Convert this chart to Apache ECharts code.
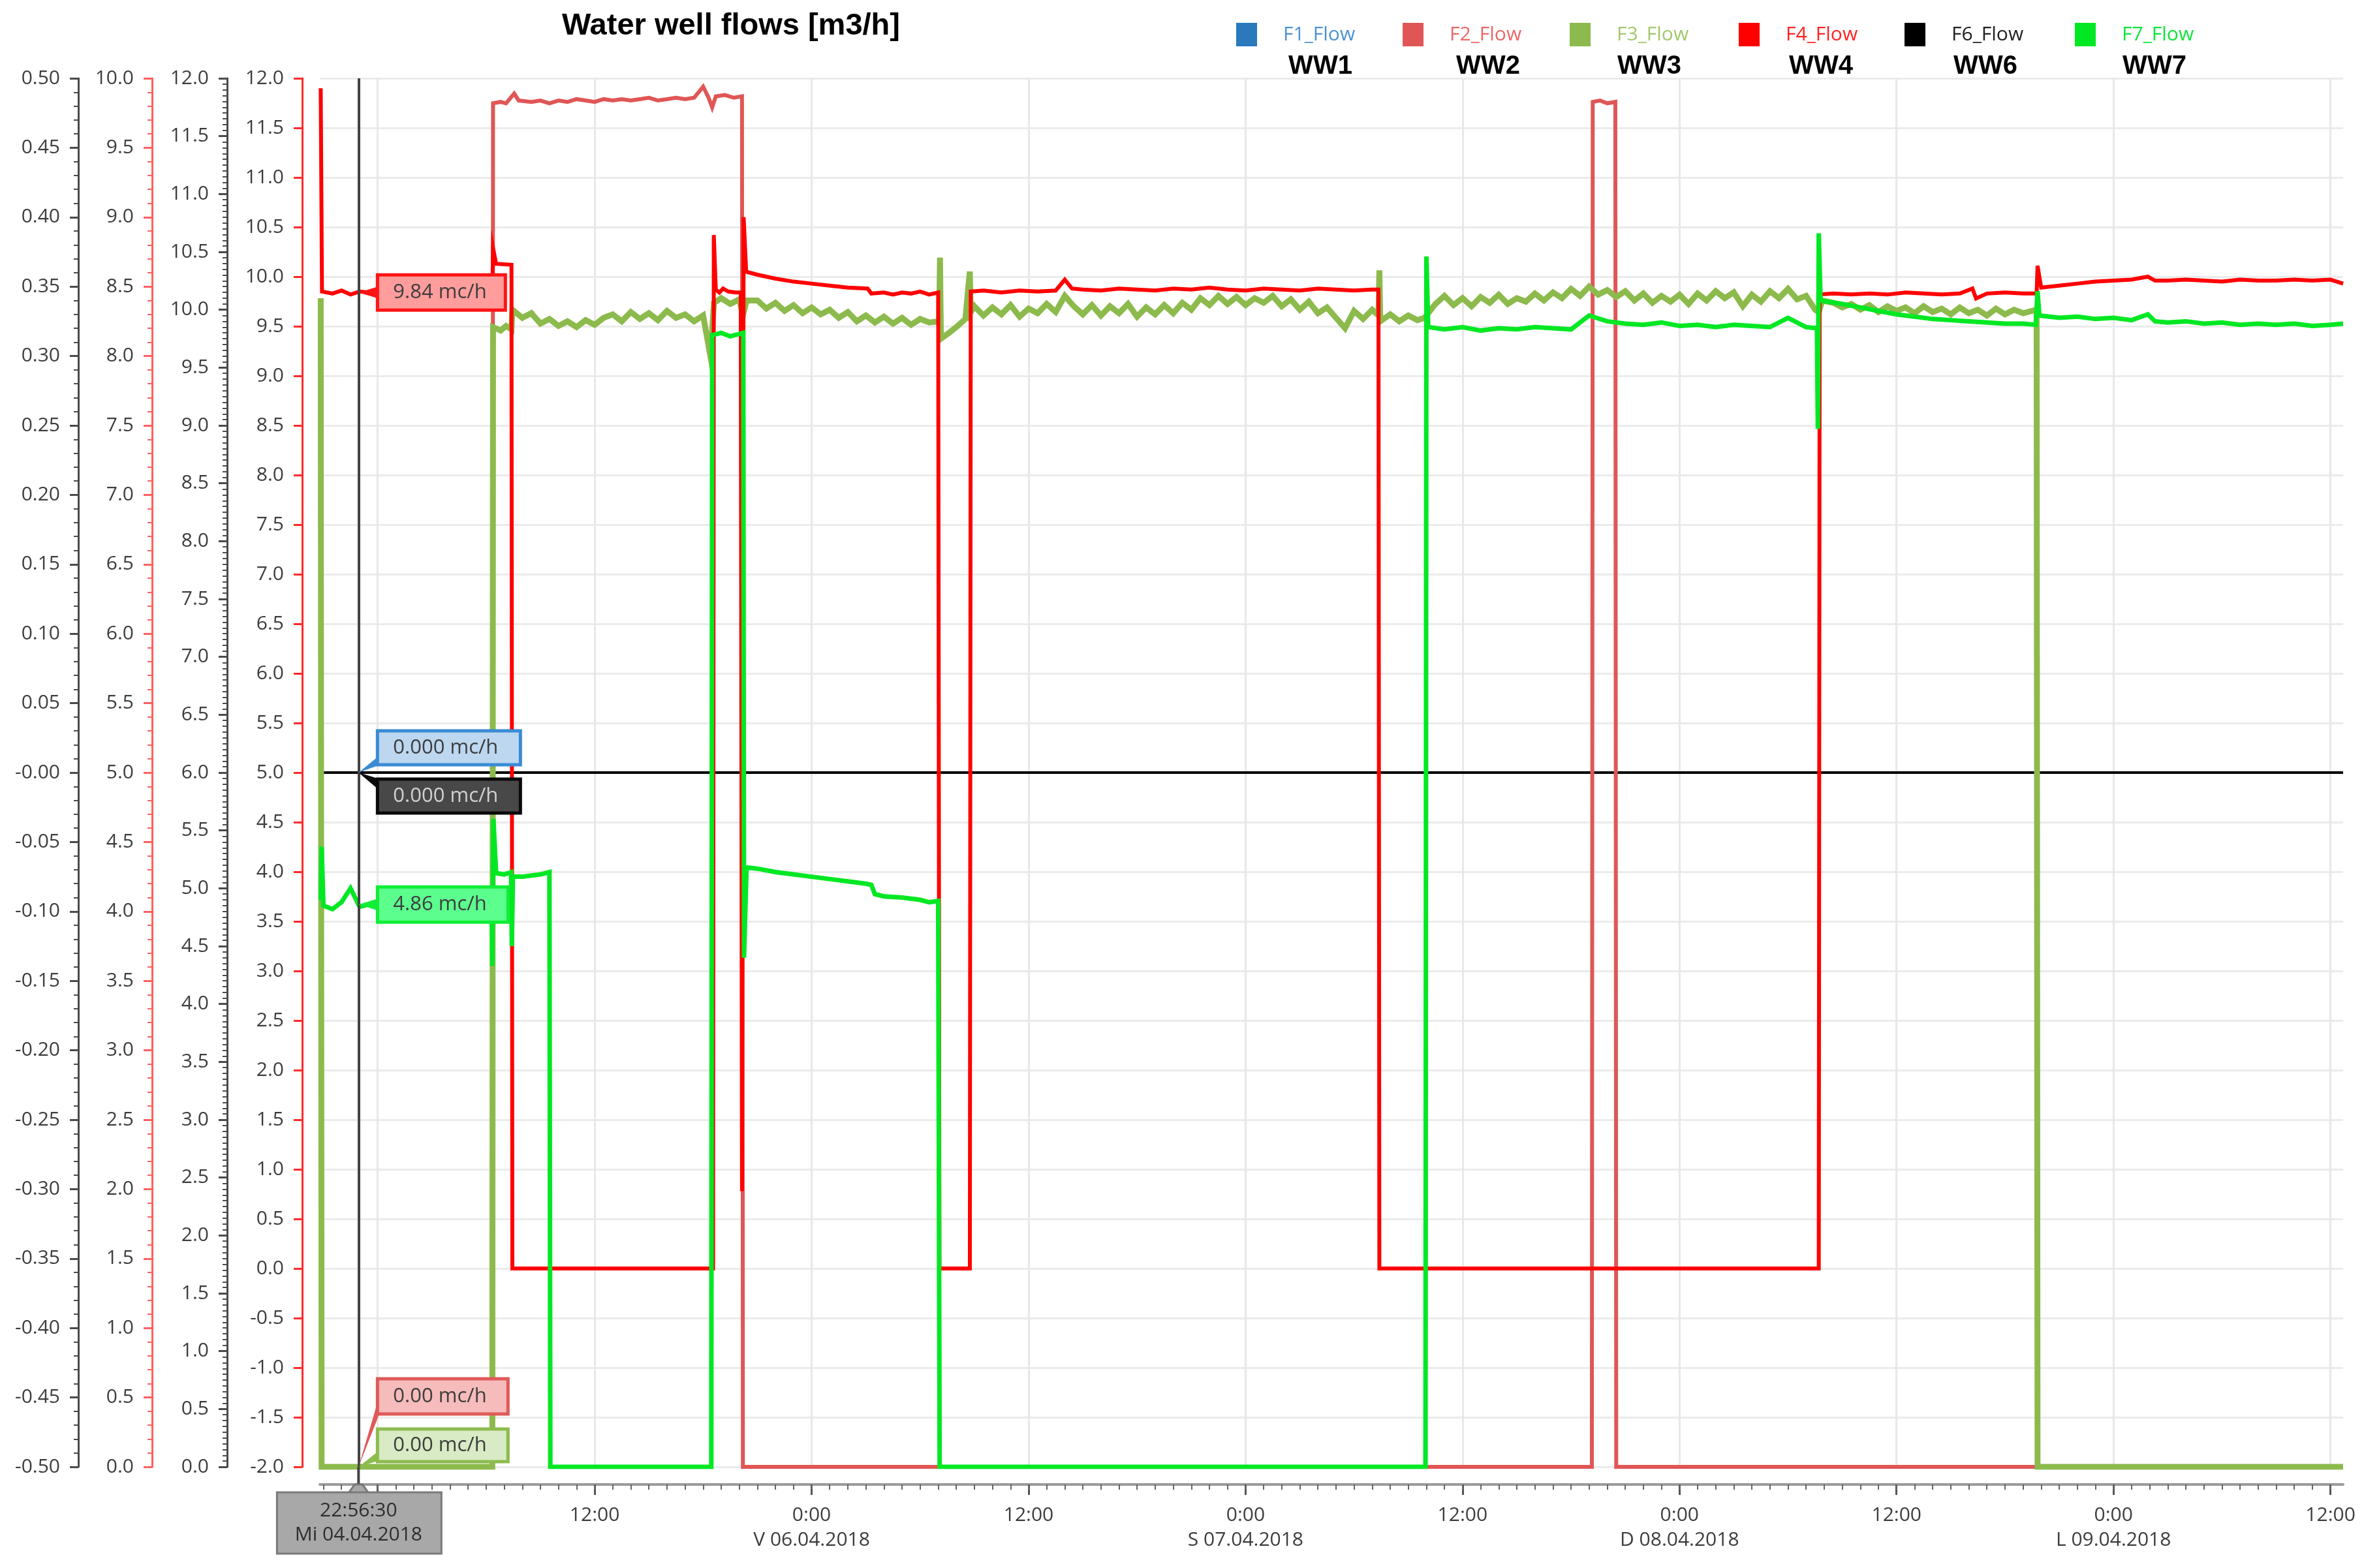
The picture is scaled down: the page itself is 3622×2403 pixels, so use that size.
<!DOCTYPE html>
<html><head><meta charset="utf-8">
<script src="https://cdn.jsdelivr.net/npm/echarts@6/dist/echarts.min.js"></script>
<style>html,body{margin:0;padding:0;background:#fff}#c{width:3622px;height:2403px}</style>
</head><body><div id="c"></div>
<script>
// ---------------- DATA (x = hours relative to 06.04.2018 0:00) ----------------
const xRange = [-27.2, 84.7];
const majorTickHours = [-24, -12, 0, 12, 24, 36, 48, 60, 72, 84];
const labelHours = [-12, 0, 12, 24, 36, 48, 60, 72, 84];
const dayLabels = {0: 'V 06.04.2018', 24: 'S 07.04.2018', 48: 'D 08.04.2018', 72: 'L 09.04.2018'};

const seriesNames = ['F1_Flow', 'F2_Flow', 'F3_Flow', 'F4_Flow', 'F6_Flow', 'F7_Flow'];
const wellNames = ['WW1', 'WW2', 'WW3', 'WW4', 'WW6', 'WW7'];

// F4 (axis -2..12)
const f4Flow = [
  [[-27.15, 11.9], [-27.08, 9.85]],
  {from: -26.5, step: 0.5, values: [9.83, 9.86, 9.82, 9.85, 9.84, 9.87, 9.83, 9.85, 9.84, 9.86, 9.83, 9.85, 9.84, 9.83, 9.86, 9.84, 9.85, 9.84]},
  [[-17.66, 9.84], [-17.62, 10.29], [-17.45, 10.13], [-16.6, 10.12], [-16.55, 0], [-5.45, 0], [-5.41, 10.42], [-5.3, 9.87], [-5.1, 9.84], [-4.9, 9.88], [-4.6, 9.85], [-4.2, 9.84], [-3.92, 9.84], [-3.85, 0.78], [-3.76, 10.6], [-3.62, 10.05], [-3, 10.02], [-2, 9.98], [-1, 9.95], [0, 9.93], [1, 9.91], [2, 9.89], [3.1, 9.88], [3.3, 9.83], [4, 9.84], [4.5, 9.82], [5, 9.84], [5.5, 9.83], [6, 9.85], [6.5, 9.82], [7.0, 9.84], [7.07, 0], [8.75, 0], [8.8, 9.85], [9.5, 9.86], [10.5, 9.84], [11.5, 9.86], [12.5, 9.85], [13.5, 9.86], [14.0, 9.97], [14.4, 9.88]],
  {from: 15, step: 1, values: [9.87, 9.86, 9.88, 9.87, 9.86, 9.88, 9.87, 9.89, 9.87, 9.86, 9.88, 9.87, 9.86, 9.88, 9.87, 9.86, 9.87]},
  [[31.35, 9.87], [31.4, 0], [55.7, 0], [55.75, 9.82]],
  {from: 56.5, step: 1, values: [9.83, 9.82, 9.83, 9.82, 9.84, 9.83, 9.82, 9.83]},
  [[64.2, 9.88], [64.4, 9.78], [65, 9.83], [66, 9.84], [67, 9.83], [67.75, 9.83], [67.8, 10.11], [68, 9.89], [69, 9.91], [70, 9.93], [71, 9.95], [72, 9.96], [73, 9.97], [73.9, 10.0], [74.3, 9.96], [75, 9.96], [76, 9.97], [77, 9.96], [78, 9.95], [79, 9.97], [80, 9.96], [81, 9.96], [82, 9.97], [83, 9.96], [84, 9.97], [84.7, 9.93]]
];

// F2 (axis 0..10)
const f2Flow = [
  [[-27.15, 0], [-17.66, 0], [-17.62, 9.82], [-17.2, 9.83], [-16.9, 9.82], [-16.45, 9.89], [-16.2, 9.84]],
  {from: -15.5, step: 0.5, values: [9.83, 9.84, 9.82, 9.84, 9.83, 9.85, 9.84, 9.83, 9.85, 9.84, 9.85, 9.84, 9.85, 9.86, 9.84, 9.85, 9.86, 9.85, 9.86]},
  [[-6.0, 9.94], [-5.7, 9.86], [-5.5, 9.79], [-5.3, 9.87], [-4.8, 9.88], [-4.3, 9.86], [-3.85, 9.87], [-3.8, 0], [43.15, 0], [43.2, 9.83], [43.6, 9.84], [44.0, 9.82], [44.45, 9.83], [44.5, 0], [84.7, 0]]
];

// F3 (axis 0..12)
const f3Flow = [
  [[-27.15, 10.1], [-27.1, 0], [-17.66, 0], [-17.62, 9.85], [-17.2, 9.82], [-16.9, 9.86], [-16.6, 9.83], [-16.55, 10.0]],
  {from: -16.0, step: 0.5, values: [9.93, 9.97, 9.88, 9.92, 9.86, 9.9, 9.85, 9.91, 9.87, 9.93, 9.96, 9.9, 9.98, 9.92, 9.97, 9.91, 9.99, 9.93, 9.96, 9.9, 9.95]},
  [[-5.6, 9.6], [-5.4, 10.06], [-5.0, 10.1], [-4.5, 10.05], [-4.0, 10.09], [-3.8, 9.95], [-3.6, 10.08]],
  {from: -3.0, step: 0.5, values: [10.08, 10.01, 10.06, 9.99, 10.04, 9.97, 10.02, 9.96, 10.0, 9.93, 9.98, 9.9, 9.95, 9.89, 9.94, 9.88, 9.93, 9.87, 9.92, 9.89]},
  [[7.05, 9.9], [7.1, 10.45], [7.15, 9.75], [7.6, 9.8], [8.0, 9.85], [8.5, 9.92], [8.75, 10.33], [8.8, 9.98]],
  {from: 9.0, step: 0.5, values: [10.03, 9.95, 10.02, 9.96, 10.04, 9.94, 10.01, 9.97, 10.05, 9.98, 10.12, 10.03, 9.96, 10.04, 9.95, 10.03, 9.97, 10.05, 9.94, 10.02, 9.96, 10.04, 9.97, 10.06, 10.0, 10.1, 10.04, 10.12, 10.05, 10.11, 10.04, 10.1, 10.06, 10.12, 10.03, 10.09, 10.0, 10.07, 9.97, 10.02, 9.93, 9.84, 9.99, 9.92, 10.0]},
  [[31.35, 9.95], [31.4, 10.34], [31.45, 9.9]],
  {from: 32.0, step: 0.5, values: [9.96, 9.9, 9.95, 9.91]},
  [[33.9, 9.93]],
  {from: 34.5, step: 0.5, values: [10.05, 10.12, 10.04, 10.1, 10.03, 10.11, 10.06, 10.13, 10.05, 10.1, 10.07, 10.14, 10.08, 10.15, 10.1, 10.18, 10.12, 10.2, 10.13, 10.17, 10.11, 10.16, 10.08, 10.14, 10.06, 10.12, 10.07, 10.13, 10.05, 10.14, 10.08, 10.16, 10.1, 10.15, 10.03, 10.13, 10.07, 10.16, 10.1, 10.18, 10.09, 10.12]},
  [[55.5, 10.0], [55.7, 9.98], [55.9, 10.08]],
  {from: 56.5, step: 0.5, values: [10.06, 10.02, 10.05, 10.0, 10.04, 9.98, 10.03, 9.99, 10.02, 9.97, 10.03, 9.98, 10.01, 9.96, 10.02, 9.97, 10.0, 9.95, 10.01, 9.96, 10.0, 9.97, 9.99]},
  [[67.75, 10.0], [67.8, 0], [84.7, 0]]
];

// F7 (axis 0..12)
const f7Flow = [
  [[-27.15, 4.9], [-27.1, 5.36], [-27.0, 4.85]],
  {from: -26.5, step: 0.5, values: [4.82, 4.88, 5.0, 4.84, 4.86, 4.83, 4.9, 4.85, 4.87, 4.85, 4.88, 4.86, 4.84, 4.87, 4.85, 4.86, 4.88, 4.86]},
  [[-17.7, 4.86], [-17.66, 4.33], [-17.6, 5.6], [-17.45, 5.13], [-17.0, 5.12], [-16.62, 5.14], [-16.58, 4.5], [-16.52, 5.1], [-16.0, 5.1], [-15.5, 5.11], [-15.0, 5.12], [-14.5, 5.14], [-14.45, 0], [-5.55, 0], [-5.5, 9.78], [-5.0, 9.8], [-4.5, 9.77], [-4.0, 9.79], [-3.78, 9.8], [-3.74, 4.4], [-3.6, 5.18], [-3, 5.17], [-2, 5.14], [-1, 5.12], [0, 5.1], [1, 5.08], [2, 5.06], [3, 5.04], [3.3, 5.03], [3.5, 4.95], [4, 4.93], [5, 4.92], [6, 4.9], [6.5, 4.88], [7.0, 4.89], [7.08, 0], [33.95, 0], [34.0, 10.46], [34.1, 9.85]],
  {from: 35, step: 1, values: [9.83, 9.85, 9.82, 9.84, 9.83, 9.85, 9.84, 9.83, 9.95, 9.9, 9.88, 9.87, 9.89, 9.86, 9.87, 9.85, 9.87, 9.86, 9.85, 9.93, 9.85]},
  [[55.6, 9.84], [55.65, 8.97], [55.7, 10.66], [55.8, 10.08], [57, 10.05], [58, 10.02], [59, 9.99], [60, 9.96], [61, 9.94], [62, 9.92], [63, 9.91], [64, 9.9], [65, 9.89], [66, 9.88], [67, 9.88], [67.7, 9.87], [67.8, 10.16], [67.9, 9.95], [69, 9.93], [70, 9.94], [71, 9.92], [72, 9.93], [73, 9.91], [73.9, 9.96], [74.3, 9.9], [75, 9.89], [76, 9.9], [77, 9.88], [78, 9.89], [79, 9.87], [80, 9.88], [81, 9.87], [82, 9.88], [83, 9.86], [84, 9.87], [84.7, 9.88]]
];

// F1, F6 (axis -0.5..0.5)
const f1Flow = [[[-27.15, 0], [84.7, 0]]];
const f6Flow = [[[-27.15, 0], [84.7, 0]]];

// cursor
const cursorHour = -25.058;
const cursorTimeLabel = ['22:56:30', 'Mi 04.04.2018'];
const cursorValues = {F1_Flow: 0, F2_Flow: 0, F3_Flow: 0, F4_Flow: 9.84, F6_Flow: 0, F7_Flow: 4.86};
const cursorDecimals = {F1_Flow: 3, F2_Flow: 2, F3_Flow: 2, F4_Flow: 2, F6_Flow: 3, F7_Flow: 2};

// ---------------- helpers ----------------
function build(pieces) {
  const out = [];
  pieces.forEach(p => {
    if (Array.isArray(p)) p.forEach(q => out.push(q));
    else p.values.forEach((v, i) => out.push([+(p.from + i * p.step).toFixed(3), v]));
  });
  return out;
}

// ---------------- styles / layout ----------------
const FONT = 'Open Sans';
const LABEL_COLOR = '#3d3d3d';
const seriesColors = {F1_Flow: '#2a79bd', F2_Flow: '#e05656', F3_Flow: '#8cba4c', F4_Flow: '#ff0000', F6_Flow: '#000000', F7_Flow: '#00e823'};
const legendTextColors = ['#4d92d3', '#ea6868', '#a3c86c', '#ff2424', '#222222', '#10e53a'];
const legendLeft = [1894, 2149, 2405, 2664, 2918, 3179];
const wellLabelX = [2023, 2280, 2527, 2790, 3042, 3301];
// y axis index per series: 0 = D(-2..12), 1 = C(0..12), 2 = B(0..10), 3 = A(-0.5..0.5)
const seriesAxis = {F1_Flow: 3, F2_Flow: 2, F3_Flow: 1, F4_Flow: 0, F6_Flow: 3, F7_Flow: 1};
const seriesData = {F1_Flow: f1Flow, F2_Flow: f2Flow, F3_Flow: f3Flow, F4_Flow: f4Flow, F6_Flow: f6Flow, F7_Flow: f7Flow};
const seriesWidth = {F1_Flow: 4, F2_Flow: 6, F3_Flow: 9, F4_Flow: 6, F6_Flow: 4, F7_Flow: 7};
const drawOrder = ['F1_Flow', 'F6_Flow', 'F2_Flow', 'F3_Flow', 'F4_Flow', 'F7_Flow'];

function yAx(min, max, offset, color, minorSplit, dec, split) {
  return {
    type: 'value', position: 'left', min: min, max: max, interval: dec === 2 ? 0.05 : 0.5, offset: offset,
    axisLine: {show: true, onZero: false, lineStyle: {color: color, width: 3}},
    axisTick: {show: true, length: 13, lineStyle: {color: color, width: 3}},
    minorTick: {show: minorSplit > 0, splitNumber: minorSplit || 5, length: 7, lineStyle: {color: color, width: 2}},
    axisLabel: {margin: 28, color: LABEL_COLOR, fontSize: 30, fontFamily: FONT,
      formatter: v => (dec === 2 && Math.abs(v) < 1e-9) ? '-0.00' : v.toFixed(dec)},
    splitLine: {show: split, lineStyle: {color: '#ebebeb', width: 3}},
    minorSplitLine: {show: false}
  };
}

const hourTicks = [];
for (let h = Math.ceil(xRange[0]); h <= xRange[1]; h++) hourTicks.push(h);

const option = {
  animation: false,
  backgroundColor: '#ffffff',
  textStyle: {fontFamily: FONT},
  title: {text: 'Water well flows [m3/h]', left: 856, top: 12,
    textStyle: {fontFamily: 'Liberation Sans', fontWeight: 'bold', fontSize: 47, color: '#000'}},
  legend: seriesNames.map((name, i) => ({
    data: [name], left: legendLeft[i], top: 35, padding: 0, itemWidth: 32, itemHeight: 36, icon: 'rect',
    formatter: '{g| }{t|{name}}',
    textStyle: {rich: {g: {width: 35}, t: {color: legendTextColors[i], fontSize: 30, fontFamily: FONT}}}
  })),
  grid: {left: 490, right: 32, top: 120, bottom: 155},
  xAxis: [
    {type: 'value', min: xRange[0], max: xRange[1], position: 'bottom', offset: 27,
      axisLine: {show: true, onZero: false, lineStyle: {color: '#9a9a9a', width: 4}},
      axisTick: {show: true, length: 16, customValues: majorTickHours, lineStyle: {color: '#555', width: 3}},
      axisLabel: {customValues: labelHours, margin: 28, color: LABEL_COLOR, fontSize: 30, lineHeight: 38, fontFamily: FONT,
        formatter: v => { const r = Math.round(v); return (r % 24 === 0) ? '0:00\n' + dayLabels[r] : '12:00'; }},
      splitLine: {show: true, lineStyle: {color: '#e8e8e8', width: 3}}
    },
    {type: 'value', min: xRange[0], max: xRange[1], position: 'bottom', offset: 27,
      axisLine: {show: false, onZero: false},
      axisTick: {show: true, length: 8, customValues: hourTicks, lineStyle: {color: '#666', width: 2}},
      axisLabel: {show: false},
      splitLine: {show: false}
    }
  ],
  yAxis: [
    yAx(-2, 12, 27, '#ff2a2a', 0, 1, true),
    yAx(0, 12, 142, '#4a4a4a', 10, 1, false),
    yAx(0, 10, 257, '#ff6060', 5, 1, false),
    yAx(-0.5, 0.5, 370, '#4a4a4a', 5, 2, false)
  ],
  series: drawOrder.map(name => {
    const s = {
      name: name, type: 'line', xAxisIndex: 0, yAxisIndex: seriesAxis[name],
      data: build(seriesData[name]), showSymbol: false, symbol: 'none', smooth: false,
      color: seriesColors[name], itemStyle: {color: seriesColors[name]},
      lineStyle: {color: seriesColors[name], width: seriesWidth[name], join: 'miter'},
      emphasis: {disabled: true}
    };
    if (name === 'F6_Flow') {
      s.markLine = {symbol: ['none', 'none'], silent: true, label: {show: false},
        lineStyle: {color: '#444', width: 4, type: 'solid'}, data: [{xAxis: cursorHour}]};
    }
    return s;
  })
};

const chart = echarts.init(document.getElementById('c'), null, {renderer: 'canvas', width: 3622, height: 2403});
chart.setOption(option);

// ---------------- cursor readouts (positioned from the axes) ----------------
const readoutStyle = {
  F4_Flow: {fill: '#ff9c9c', stroke: '#ff1414', text: '#3d3d3d', w: 196, h: 54, dy: -27, wedge: [-10, 10]},
  F1_Flow: {fill: '#bdd7f0', stroke: '#3b8bd4', text: '#3d3d3d', w: 219, h: 52, dy: -64, wedge: [-27, -12]},
  F6_Flow: {fill: '#484848', stroke: '#0a0a0a', text: '#d0d0d0', w: 219, h: 52, dy: 10, wedge: [10, 28]},
  F7_Flow: {fill: '#5cff8e', stroke: '#10ee36', text: '#3d3d3d', w: 200, h: 54, dy: -27, wedge: [-10, 10]},
  F2_Flow: {fill: '#f6bbbb', stroke: '#e05a5a', text: '#3d3d3d', w: 200, h: 54, dy: -135, wedge: [-112, -84]},
  F3_Flow: {fill: '#d8ebc4', stroke: '#8cbc4e', text: '#3d3d3d', w: 200, h: 50, dy: -58, wedge: [-26, -10]}
};
const graphics = [];
seriesNames.forEach(name => {
  const st = readoutStyle[name];
  const p = chart.convertToPixel({xAxisIndex: 0, yAxisIndex: seriesAxis[name]}, [cursorHour, cursorValues[name]]);
  const bx = p[0] + 29, by = p[1] + st.dy;
  graphics.push({type: 'polygon', z: 100, silent: true,
    shape: {points: [[p[0], p[1]], [bx + 4, p[1] + st.wedge[0]], [bx + 4, p[1] + st.wedge[1]]]},
    style: {fill: st.stroke}});
  graphics.push({type: 'rect', z: 101, silent: true, shape: {x: bx, y: by, width: st.w, height: st.h},
    style: {fill: st.fill, stroke: st.stroke, lineWidth: 5}});
  graphics.push({type: 'text', z: 102, silent: true, x: bx + 24, y: by + st.h / 2,
    style: {text: cursorValues[name].toFixed(cursorDecimals[name]) + ' mc/h', fill: st.text,
      font: '31px "Open Sans"', verticalAlign: 'middle', textAlign: 'left'}});
});
// cursor time box
const pb = chart.convertToPixel({xAxisIndex: 0, yAxisIndex: 0}, [cursorHour, -2]);
const boxTop = pb[1] + 39;
graphics.push({type: 'line', z: 100, silent: true, shape: {x1: pb[0], y1: pb[1], x2: pb[0], y2: boxTop},
  style: {stroke: '#444', lineWidth: 4}});
graphics.push({type: 'polygon', z: 101, silent: true,
  shape: {points: [[pb[0] - 16, boxTop + 2], [pb[0] - 6, boxTop - 12], [pb[0] + 6, boxTop - 12], [pb[0] + 16, boxTop + 2]]},
  style: {fill: '#a8a8a8', stroke: '#777', lineWidth: 3}});
graphics.push({type: 'rect', z: 101, silent: true, shape: {x: pb[0] - 125, y: boxTop, width: 252, height: 94},
  style: {fill: '#a8a8a8', stroke: '#7a7a7a', lineWidth: 3}});
graphics.push({type: 'text', z: 102, silent: true, x: pb[0], y: boxTop + 47,
  style: {text: cursorTimeLabel.join('\n'), fill: '#2e2e2e', font: '30px "Open Sans"', lineHeight: 37,
    textAlign: 'center', verticalAlign: 'middle'}});
// well names under legend
wellNames.forEach((w, i) => {
  graphics.push({type: 'text', z: 100, silent: true, x: wellLabelX[i], y: 102,
    style: {text: w, fill: '#000', font: 'bold 40px "Liberation Sans"', textAlign: 'center', verticalAlign: 'middle'}});
});
chart.setOption({graphic: graphics});
</script></body></html>
